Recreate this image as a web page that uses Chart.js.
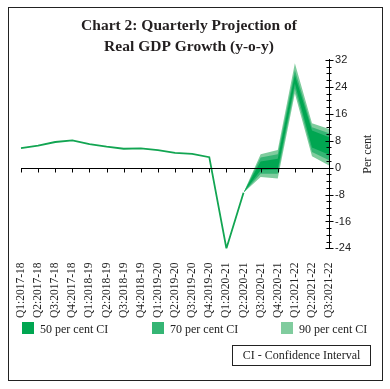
<!DOCTYPE html>
<html>
<head>
<meta charset="utf-8">
<script src="https://cdn.jsdelivr.net/npm/chart.js@4/dist/chart.umd.min.js"></script>
<style>
  body { margin: 0; background: #fff; }
  #frame { position: absolute; left: 8px; top: 7px; width: 373px; height: 372px; border: 1px solid #222; }
  #wrap { position: absolute; left: 0; top: 0; width: 390px; height: 389px; }
  #legend { position: absolute; top: 322px; left: 0; width: 390px; height: 16px; font: 12px "Liberation Serif"; color: #222; }
  #legend span.item { position: absolute; top: 0; white-space: nowrap; }
  #legend i { display: inline-block; width: 12px; height: 12px; vertical-align: -1px; margin-right: 6px; }
  #ciNote { position: absolute; left: 232px; top: 345px; width: 137px; height: 19px; border: 1px solid #222;
            font: 12px "Liberation Serif"; text-align: center; line-height: 19px; color: #222; }
</style>
</head>
<body>
<div id="frame"></div>
<div id="wrap"><canvas class="myChart" width="390" height="389"></canvas></div>
<div id="legend"></div>
<div id="ciNote">CI - Confidence Interval</div>
<script>
// quarterly growth, actual up to Q2:2020-21 then fan projection

const labels = ["Q1:2017-18","Q2:2017-18","Q3:2017-18","Q4:2017-18",
    "Q1:2018-19","Q2:2018-19","Q3:2018-19","Q4:2018-19",
    "Q1:2019-20","Q2:2019-20","Q3:2019-20","Q4:2019-20",
    "Q1:2020-21","Q2:2020-21","Q3:2020-21","Q4:2020-21",
    "Q1:2021-22","Q2:2021-22","Q3:2021-22"];

const growth   = [5.8, 6.5, 7.6, 8.1, 7.0, 6.2, 5.6, 5.7, 5.2, 4.4, 4.1, 3.1, -24.0, -7.5, null, null, null, null, null];

const ci90High = [null,null,null,null,null,null,null,null,null,null,null,null,null, -7.5, 4.0, 5.2, 31.0, 13.2, 11.5];
const ci70High = [null,null,null,null,null,null,null,null,null,null,null,null,null, -7.5, 3.0, 4.0, 29.0, 12.0, 10.2];
const ci50High = [null,null,null,null,null,null,null,null,null,null,null,null,null, -7.5, 1.8, 2.6, 27.5, 11.0, 9.0];
const ci50Low  = [null,null,null,null,null,null,null,null,null,null,null,null,null, -7.5, -0.8, -0.6, 25.0, 6.0, 3.8];
const ci70Low  = [null,null,null,null,null,null,null,null,null,null,null,null,null, -7.5, -1.8, -1.8, 23.5, 4.6, 2.2];
const ci90Low  = [null,null,null,null,null,null,null,null,null,null,null,null,null, -7.5, -2.8, -3.2, 22.0, 3.4, 0.6];

const yTicks = [-24, -16, -8, 0, 8, 16, 24, 32];

const col50 = "#00a651";
const col70 = "#35b574";
const col90 = "#80cc9e";

function band(label, data, color, fill) {
    return {
        label: label,
        data: data,
        backgroundColor: color,
        borderColor: color,
        borderWidth: 0,
        pointRadius: 0,
        fill: fill,
        tension: 0,
    };
}

// zero line with ticks, y axis ticks and the "Per cent" title
const axisMarks = {
    id: "axisMarks",
    afterDatasetsDraw(chart) {
        const {ctx, chartArea, scales: {x, y}} = chart;
        const y0 = Math.round(y.getPixelForValue(0)) + 0.5;
        ctx.save();
        ctx.strokeStyle = "#000";
        ctx.lineWidth = 1;
        ctx.beginPath();
        ctx.moveTo(chartArea.left, y0);
        ctx.lineTo(chartArea.right, y0);
        labels.forEach((l, i) => {
            const px = Math.round(x.getPixelForValue(i)) + 0.5;
            ctx.moveTo(px, y0);
            ctx.lineTo(px, y0 + 4);
        });
        const ax = Math.round(y.left) + 0.5;
        y.ticks.forEach(t => {
            const py = Math.round(y.getPixelForValue(t.value)) + 0.5;
            const major = yTicks.includes(t.value);
            ctx.moveTo(ax - (major ? 4 : 3), py);
            ctx.lineTo(ax + (major ? 4 : 2), py);
        });
        ctx.stroke();
        ctx.translate(368, (chartArea.top + chartArea.bottom) / 2);
        ctx.rotate(-Math.PI / 2);
        ctx.font = '12px "Liberation Serif"';
        ctx.fillStyle = "#222";
        ctx.textAlign = "center";
        ctx.textBaseline = "middle";
        ctx.fillText("Per cent", 0, 0);
        ctx.restore();
    }
};

const myChart = document.querySelector(".myChart");

const chart = new Chart(myChart, {
    type: "line",
    data: {
        labels: labels,
        datasets: [
            {
                label: "GDP growth",
                data: growth,
                borderColor: "#12a552",
                borderWidth: 1.8,
                pointRadius: 0,
                fill: false,
                tension: 0,
            },
            band("50 per cent CI", ci50High, col50, "+1"),
            band("", ci50Low, col50, false),
            band("70 per cent CI", ci70High, col70, "+1"),
            band("", ci70Low, col70, false),
            band("90 per cent CI", ci90High, col90, "+1"),
            band("", ci90Low, col90, false),
        ],
    },
    options: {
        responsive: false,
        animation: false,
        layout: { padding: { left: 21, right: 33, top: 0, bottom: 65 } },
        scales: {
            x: {
                grid: { display: false },
                border: { display: false },
                ticks: {
                    autoSkip: false,
                    minRotation: 90,
                    maxRotation: 90,
                    padding: 6,
                    color: "#222",
                    font: { family: "Liberation Serif", size: 11.5 },
                },
            },
            y: {
                position: "right",
                min: -24,
                max: 32,
                grid: { drawOnChartArea: false, drawTicks: false },
                border: { display: true, color: "#000", width: 1 },
                ticks: {
                    stepSize: 2,
                    autoSkip: false,
                    padding: 6,
                    color: "#222",
                    font: { family: "Liberation Sans", size: 11 },
                    callback: v => yTicks.includes(v) ? v : "",
                },
            },
        },
        plugins: {
            legend: { display: false },
            tooltip: { enabled: false },
            title: {
                display: true,
                text: ["Chart 2: Quarterly Projection of", "Real GDP Growth (y-o-y)"],
                color: "#231f20",
                font: { family: "Liberation Serif", size: 15.5, weight: "bold", lineHeight: 1.35 },
                padding: { top: 16, bottom: 2 },
            },
        },
    },
    plugins: [axisMarks],
});

// legend from the band datasets
const legend = document.getElementById("legend");
const legendX = [22, 152, 281];
chart.data.datasets.filter(d => d.label.includes("CI")).forEach((d, i) => {
    const item = document.createElement("span");
    item.className = "item";
    item.style.left = legendX[i] + "px";
    item.innerHTML = '<i style="background:' + d.backgroundColor + '"></i>' + d.label;
    legend.appendChild(item);
});
</script>
</body>
</html>
